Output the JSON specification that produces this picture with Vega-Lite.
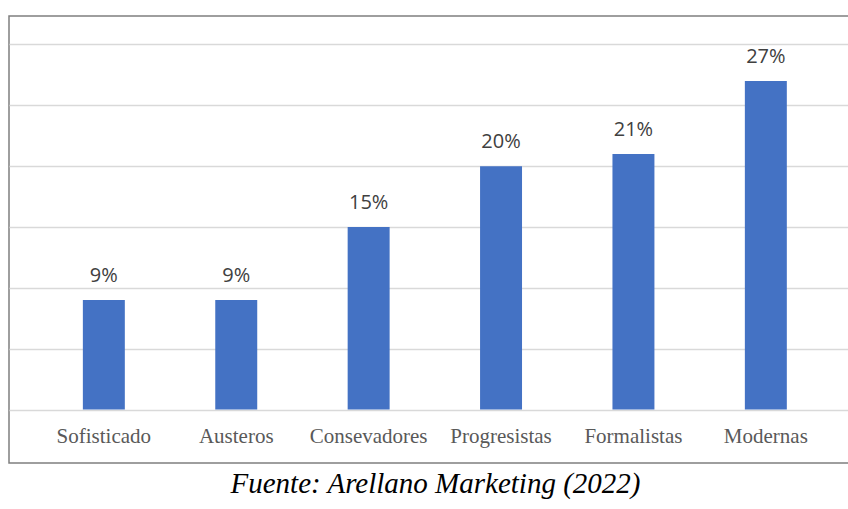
{
  "$schema": "https://vega.github.io/schema/vega-lite/v6.json",
  "width": 841,
  "height": 447,
  "autosize": {"type": "none"},
  "padding": {"left": 9, "top": 16, "right": -2, "bottom": 46},
  "background": "white",
  "config": {"view": {"stroke": "#7f7f7f", "strokeWidth": 1.5}},
  "title": {
    "text": "Fuente: Arellano Marketing (2022)",
    "orient": "bottom",
    "anchor": "middle",
    "font": "Liberation Serif",
    "fontStyle": "italic",
    "fontWeight": "normal",
    "fontSize": 29,
    "color": "black",
    "baseline": "alphabetic",
    "offset": 30,
    "dx": 6
  },
  "data": {
    "values": [
      {"categoria": "Sofisticado", "valor": 0.09},
      {"categoria": "Austeros", "valor": 0.09},
      {"categoria": "Consevadores", "valor": 0.15},
      {"categoria": "Progresistas", "valor": 0.20},
      {"categoria": "Formalistas", "valor": 0.21},
      {"categoria": "Modernas", "valor": 0.27}
    ]
  },
  "encoding": {
    "x": {
      "field": "categoria",
      "type": "nominal",
      "sort": null,
      "scale": {"paddingInner": 0.683, "paddingOuter": 0.5175, "align": 0.539},
      "axis": {
        "title": null,
        "labelAngle": 0,
        "domain": false,
        "ticks": false,
        "tickSize": 0,
        "offset": -53.5,
        "labelPadding": 32.5,
        "labelBaseline": "alphabetic",
        "labelFont": "Liberation Serif",
        "labelFontSize": 21,
        "labelColor": "#595959",
        "grid": false
      }
    },
    "y": {
      "field": "valor",
      "type": "quantitative",
      "scale": {"domain": [-0.04397, 0.32342], "nice": false, "zero": false},
      "axis": {
        "title": null,
        "values": [0, 0.05, 0.1, 0.15, 0.2, 0.25, 0.3],
        "labels": false,
        "ticks": false,
        "domain": false,
        "grid": true,
        "gridColor": "#d9d9d9",
        "gridWidth": 1.3
      }
    }
  },
  "layer": [
    {"mark": {"type": "bar", "color": "#4472C4"}, "encoding": {"y2": {"datum": 0}}},
    {
      "mark": {"type": "text", "font": "Open Sans", "fontSize": 20, "color": "#404040", "baseline": "alphabetic", "dy": -18},
      "encoding": {"text": {"field": "valor", "type": "quantitative", "format": ".0%"}}
    }
  ]
}
